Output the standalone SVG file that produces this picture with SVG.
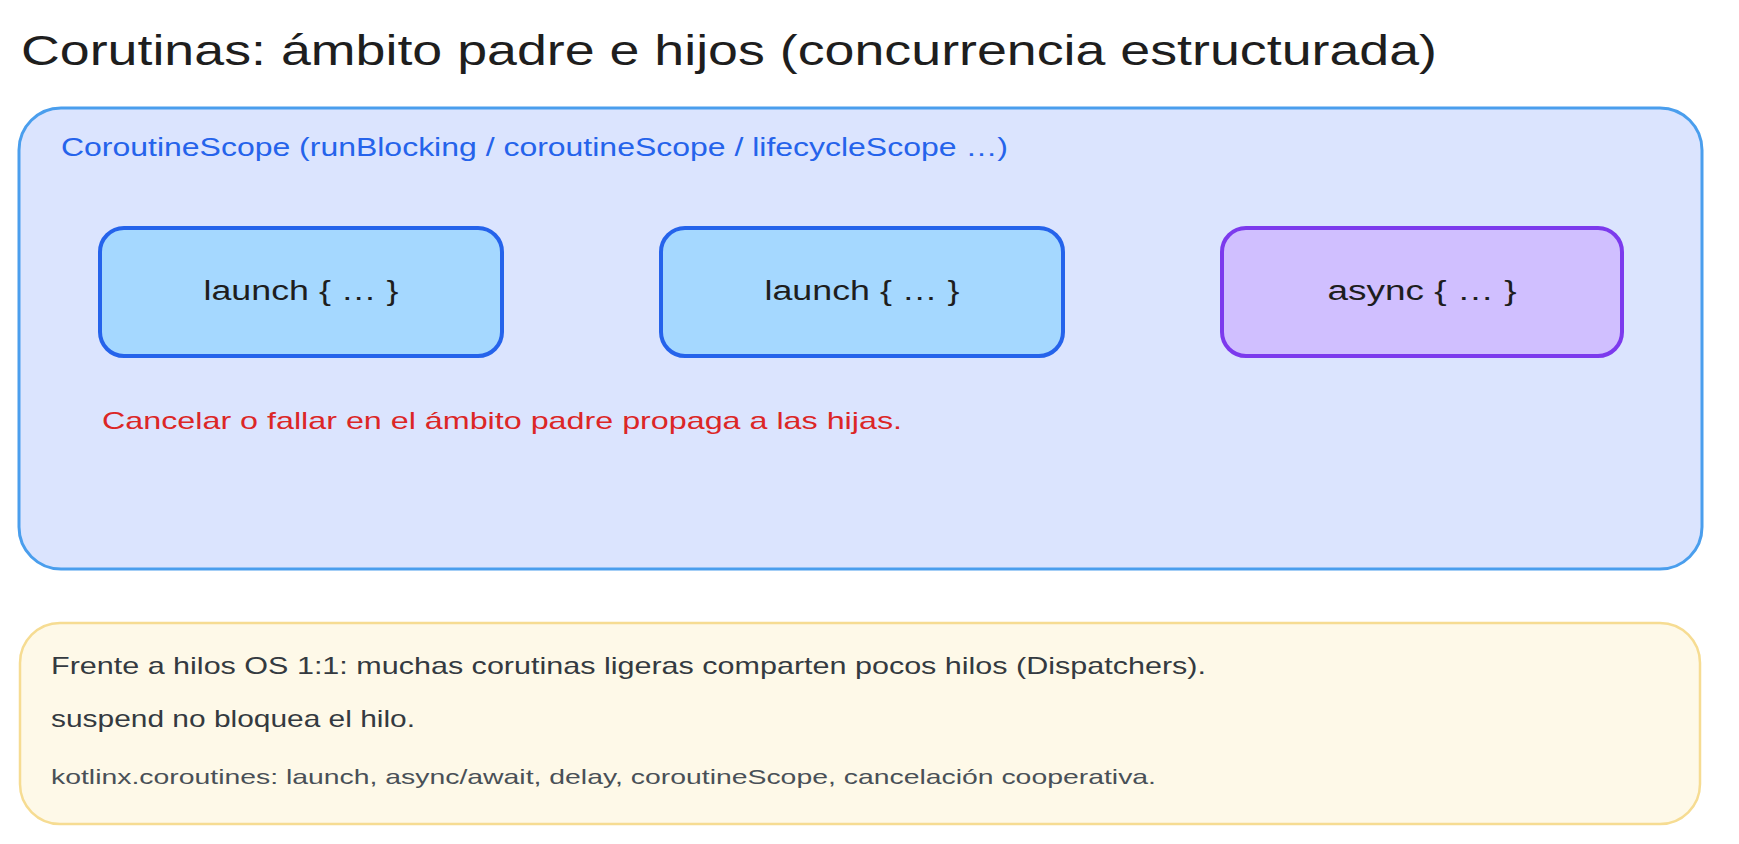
<svg xmlns="http://www.w3.org/2000/svg" width="1739" height="844" viewBox="0 0 1739 844">
<style>
text{font-family:"Liberation Sans","Noto Sans",Arial,sans-serif}
.title{font-size:42px;fill:#1e1e1e}
.scope{fill:#dbe4fe;stroke:#4a9eed;stroke-width:3}
.launch{fill:#a5d8ff;stroke:#2563eb;stroke-width:4}
.async{fill:#d0bfff;stroke:#7c3aed;stroke-width:4}
.note{fill:#fef9e8;stroke:#f6dc92;stroke-width:2.5}
.lbl{font-size:27px;fill:#1e1e1e;text-anchor:middle}
.blue{font-size:25px;fill:#2563eb}
.red{font-size:24px;fill:#dc2626}
.n1{font-size:24px;fill:#343a40}
.n2{font-size:21px;fill:#495057}
</style>
<rect width="1739" height="844" fill="#ffffff"/>
<g id="title">
<text class="title" x="21" y="65" textLength="1416" lengthAdjust="spacingAndGlyphs">Corutinas: ámbito padre e hijos (concurrencia estructurada)</text>
</g>
<g id="scope">
<rect class="scope" x="19" y="108" width="1683" height="461" rx="42"/>
<text class="blue" x="61" y="156" textLength="947" lengthAdjust="spacingAndGlyphs">CoroutineScope (runBlocking / coroutineScope / lifecycleScope …)</text>
</g>
<g id="launch1">
<rect class="launch" x="100" y="228" width="402" height="128" rx="24"/>
<text class="lbl" x="301" y="300" textLength="195" lengthAdjust="spacingAndGlyphs">launch { … }</text>
</g>
<g id="launch2">
<rect class="launch" x="661" y="228" width="402" height="128" rx="24"/>
<text class="lbl" x="862" y="300" textLength="195" lengthAdjust="spacingAndGlyphs">launch { … }</text>
</g>
<g id="async">
<rect class="async" x="1222" y="228" width="400" height="128" rx="24"/>
<text class="lbl" x="1422" y="300" textLength="189" lengthAdjust="spacingAndGlyphs">async { … }</text>
</g>
<g id="cancel-note">
<text class="red" x="102" y="429" textLength="800" lengthAdjust="spacingAndGlyphs">Cancelar o fallar en el ámbito padre propaga a las hijas.</text>
</g>
<g id="footer">
<rect class="note" x="20" y="623" width="1680" height="201" rx="40"/>
<text class="n1" x="51" y="674" textLength="1155" lengthAdjust="spacingAndGlyphs">Frente a hilos OS 1:1: muchas corutinas ligeras comparten pocos hilos (Dispatchers).</text>
<text class="n1" x="51" y="727" textLength="364" lengthAdjust="spacingAndGlyphs">suspend no bloquea el hilo.</text>
<text class="n2" x="51" y="784" textLength="1105" lengthAdjust="spacingAndGlyphs">kotlinx.coroutines: launch, async/await, delay, coroutineScope, cancelación cooperativa.</text>
</g>
<g id="connectors"/>
</svg>
